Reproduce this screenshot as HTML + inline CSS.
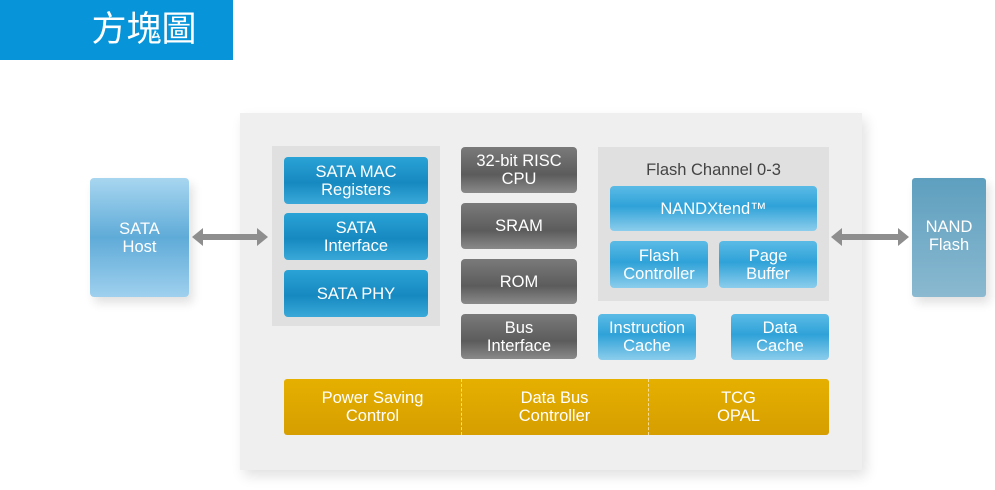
<!DOCTYPE html>
<html><head><meta charset="utf-8"><style>
body{margin:0;width:995px;height:490px;background:#fff;position:relative;overflow:hidden;font-family:"Liberation Sans",sans-serif}
div{position:absolute;box-sizing:border-box}
.t{display:flex;align-items:center;justify-content:center;text-align:center;color:#fff;font-size:16.5px;line-height:18px}
.b{background:linear-gradient(#2aa3d6,#1689c0 55%,#3aa9d9);border-radius:4px}
.lb{background:linear-gradient(#5bbbe6,#2fa2d8 45%,#8ccdec);border-radius:4px}
.g{background:linear-gradient(#7a7a7a,#5c5c5c 60%,#8a8a8a);border-radius:4px}
</style></head><body>
<div style="left:0;top:0;width:233px;height:60px;background:#0894d8"></div>
<div class="t" style="left:84px;top:8px;width:120px;height:44px;font-size:35px;line-height:40px;font-family:'Liberation Sans','Noto Sans CJK TC',sans-serif">方塊圖</div>
<div style="left:240px;top:113px;width:622px;height:357px;background:#efefef;box-shadow:4px 6px 12px rgba(0,0,0,.12)"></div>
<div style="left:272px;top:146px;width:168px;height:180px;background:#e0e0e0"></div>
<div class="t b" style="left:284px;top:157px;width:144px;height:47px">SATA MAC<br>Registers</div>
<div class="t b" style="left:284px;top:213px;width:144px;height:47px">SATA<br>Interface</div>
<div class="t b" style="left:284px;top:270px;width:144px;height:47px">SATA PHY</div>
<div class="t lb" style="left:90px;top:178px;width:99px;height:119px;background:linear-gradient(#a8d6f0,#5fabd8 50%,#9fd0ee);box-shadow:4px 6px 10px rgba(0,0,0,.12)">SATA<br>Host</div>
<div class="t g" style="left:461px;top:147px;width:116px;height:46px">32-bit RISC<br>CPU</div>
<div class="t g" style="left:461px;top:203px;width:116px;height:46px">SRAM</div>
<div class="t g" style="left:461px;top:259px;width:116px;height:45px">ROM</div>
<div class="t g" style="left:461px;top:314px;width:116px;height:45px">Bus<br>Interface</div>
<div style="left:598px;top:147px;width:231px;height:154px;background:#e0e0e0"></div>
<div class="t" style="left:598px;top:160px;width:231px;height:20px;color:#444">Flash Channel 0-3</div>
<div class="t lb" style="left:610px;top:186px;width:207px;height:45px">NANDXtend™</div>
<div class="t lb" style="left:610px;top:241px;width:98px;height:47px">Flash<br>Controller</div>
<div class="t lb" style="left:719px;top:241px;width:98px;height:47px">Page<br>Buffer</div>
<div class="t lb" style="left:598px;top:314px;width:98px;height:46px">Instruction<br>Cache</div>
<div class="t lb" style="left:731px;top:314px;width:98px;height:46px">Data<br>Cache</div>
<div style="left:284px;top:379px;width:545px;height:56px;background:linear-gradient(#e6b000,#d69e00);border-radius:3px"></div>
<div style="left:461px;top:379px;height:56px;border-left:1px dashed #f5dc90"></div>
<div style="left:648px;top:379px;height:56px;border-left:1px dashed #f5dc90"></div>
<div class="t" style="left:284px;top:379px;width:177px;height:56px">Power Saving<br>Control</div>
<div class="t" style="left:461px;top:379px;width:187px;height:56px">Data Bus<br>Controller</div>
<div class="t" style="left:648px;top:379px;width:181px;height:56px">TCG<br>OPAL</div>
<div class="t" style="left:912px;top:178px;width:74px;height:119px;background:linear-gradient(#5e9fbf,#8ab9d0);border-radius:3px;box-shadow:4px 6px 10px rgba(0,0,0,.12);padding-bottom:4px">NAND<br>Flash</div>
<svg style="position:absolute;left:0;top:0" width="995" height="490">
<g fill="#8e8e8e">
<rect x="200" y="234" width="60" height="6"/><polygon points="192,237 203,228 203,246"/><polygon points="268,237 257,228 257,246"/>
<rect x="839" y="234" width="62" height="6"/><polygon points="831,237 842,228 842,246"/><polygon points="909,237 898,228 898,246"/>
</g>
</svg>
</body></html>
